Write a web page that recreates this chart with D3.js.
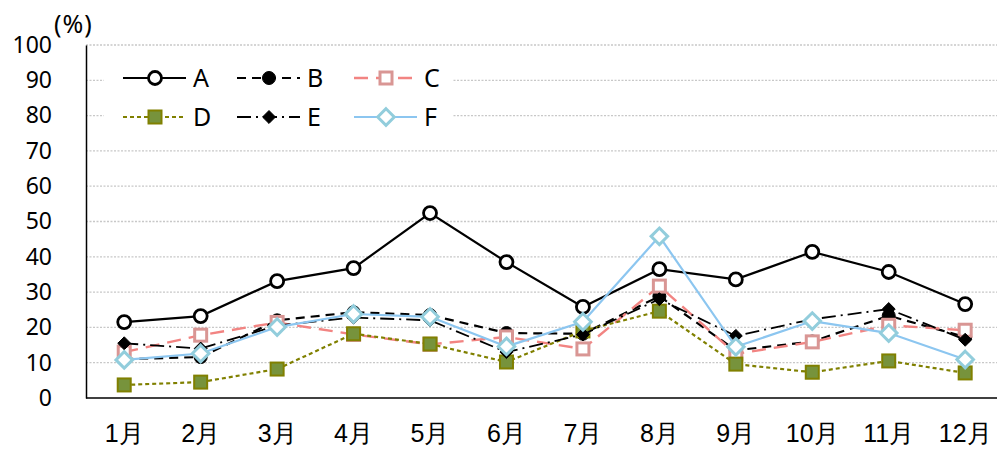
<!DOCTYPE html>
<html>
<head>
<meta charset="utf-8">
<script src="https://cdn.jsdelivr.net/npm/d3@7"></script>
<style>
  body { margin: 0; background: #fff; }
  svg { display: block; font-family: "Noto Sans CJK JP", "Noto Sans", sans-serif; }
</style>
</head>
<body>
<svg id="chart" width="997" height="449"></svg>
<script>
// months along the x axis
var months = ["1月", "2月", "3月", "4月", "5月", "6月", "7月", "8月", "9月", "10月", "11月", "12月"];
var yTicks = [0, 10, 20, 30, 40, 50, 60, 70, 80, 90, 100];

// series values (%)
var seriesA = [21.5, 23.2, 33.1, 36.8, 52.4, 38.5, 25.8, 36.5, 33.6, 41.4, 35.7, 26.6];
var seriesB = [11.0, 11.6, 22.0, 24.3, 23.5, 18.4, 18.2, 28.8, 13.5, 16.0, 23.3, 17.3];
var seriesC = [13.0, 17.8, 21.4, 18.0, 15.2, 17.3, 13.9, 31.7, 12.5, 15.9, 20.6, 19.2];
var seriesD = [3.7, 4.5, 8.2, 18.2, 15.3, 10.2, 19.0, 24.6, 9.6, 7.3, 10.5, 7.1];
var seriesE = [15.5, 14.0, 20.5, 22.8, 22.0, 13.0, 18.0, 28.0, 17.6, 22.3, 25.2, 16.5];
var seriesF = [10.8, 12.6, 20.1, 23.8, 23.0, 14.6, 21.6, 45.8, 14.5, 21.8, 18.4, 10.9];

// how each series looks
var styles = [
    {name: "A", values: seriesA, stroke: "#000", dash: null, width: 2.2,
     shape: "circle", size: 6.5, mFill: "#fff", mStroke: "#000", mWidth: 2.8},
    {name: "B", values: seriesB, stroke: "#000", dash: "9,6", width: 2.2,
     shape: "circle", size: 6.5, mFill: "#000", mStroke: "#000", mWidth: 1},
    {name: "C", values: seriesC, stroke: "#f28482", dash: "14,8", width: 2.4,
     shape: "square", size: 12, mFill: "#fff", mStroke: "#d99694", mWidth: 3},
    {name: "D", values: seriesD, stroke: "#808000", dash: "4,3", width: 2.2,
     shape: "square", size: 13, mFill: "#77933c", mStroke: "#808000", mWidth: 2},
    {name: "E", values: seriesE, stroke: "#000", dash: "14,5,2,5", width: 1.8,
     shape: "diamond", size: 9, mFill: "#000", mStroke: "#000", mWidth: 1},
    {name: "F", values: seriesF, stroke: "#8cc6f0", dash: null, width: 2.2,
     shape: "diamond", size: 11.5, mFill: "#fff", mStroke: "#92cddc", mWidth: 3}
];

var svg = d3.select("#chart");
var plotLeft = 86, plotBottom = 398, plotTop = 45, plotRight = 997;

var x = d3.scaleBand().domain(months).range([plotLeft, plotLeft + 12 * 76.45]);
var y = d3.scaleLinear().domain([0, 100]).range([plotBottom, plotTop]);

function cx(i) { return x(months[i]) + x.bandwidth() / 2; }

// gridlines
svg.append("g").selectAll("line")
    .data(yTicks.filter(function(d) { return d > 0; }))
    .enter().append("line")
    .attr("x1", plotLeft).attr("x2", plotRight)
    .attr("y1", function(d) { return y(d); })
    .attr("y2", function(d) { return y(d); })
    .attr("stroke", "#c8c8c8")
    .attr("stroke-width", 1.3)
    .attr("stroke-dasharray", "2,1.5");

// y axis
var yAxis = svg.append("g")
    .attr("transform", "translate(" + plotLeft + ",0)")
    .call(d3.axisLeft(y).tickValues(yTicks).tickSize(0).tickPadding(34));
yAxis.select(".domain").attr("stroke", "#000").attr("stroke-width", 1.5);
yAxis.selectAll("text").attr("font-size", 23).attr("fill", "#000")
    .attr("font-family", "Noto Sans, sans-serif");

// x axis
var xAxis = svg.append("g")
    .attr("transform", "translate(0," + plotBottom + ")")
    .call(d3.axisBottom(x).tickSize(0).tickPadding(26));
xAxis.select(".domain").remove();
xAxis.selectAll("text").attr("font-size", 25).attr("fill", "#000");
svg.append("line")
    .attr("x1", plotLeft).attr("x2", plotRight)
    .attr("y1", plotBottom).attr("y2", plotBottom)
    .attr("stroke", "#000").attr("stroke-width", 1.5);

svg.append("text")
    .attr("x", 54).attr("y", 33)
    .attr("font-size", 25)
    .attr("letter-spacing", 1)
    .attr("font-family", "Noto Sans, sans-serif")
    .text("(%)");

// draws one marker at the origin of g
function drawMarker(g, s) {
    var m;
    if (s.shape == "circle") {
        m = g.append("circle").attr("r", s.size);
    } else if (s.shape == "square") {
        m = g.append("rect")
            .attr("x", -s.size / 2).attr("y", -s.size / 2)
            .attr("width", s.size).attr("height", s.size);
    } else {
        var h = s.size * 0.72;
        m = g.append("path")
            .attr("d", "M0," + (-h) + "L" + h + ",0L0," + h + "L" + (-h) + ",0Z");
    }
    m.attr("fill", s.mFill).attr("stroke", s.mStroke).attr("stroke-width", s.mWidth);
}

var line = d3.line()
    .x(function(d, i) { return cx(i); })
    .y(function(d) { return y(d); });

styles.forEach(function(s) {
    var g = svg.append("g");
    g.append("path")
        .attr("d", line(s.values))
        .attr("fill", "none")
        .attr("stroke", s.stroke)
        .attr("stroke-width", s.width)
        .attr("stroke-dasharray", s.dash);
    s.values.forEach(function(v, i) {
        drawMarker(g.append("g").attr("transform", "translate(" + cx(i) + "," + y(v) + ")"), s);
    });
});

// legend, 3 per row
var legend = svg.append("g");
legend.append("rect")
    .attr("x", 104).attr("y", 52).attr("width", 348).attr("height", 86)
    .attr("fill", "#fff");

var legendX = [123, 237, 354];
var legendY = [78, 117];
styles.forEach(function(s, i) {
    var lx = legendX[i % 3], ly = legendY[Math.floor(i / 3)];
    var item = legend.append("g").attr("transform", "translate(" + lx + "," + ly + ")");
    item.append("line")
        .attr("x1", 0).attr("x2", 63)
        .attr("stroke", s.stroke)
        .attr("stroke-width", s.width)
        .attr("stroke-dasharray", s.dash);
    drawMarker(item.append("g").attr("transform", "translate(32,0)"), s);
    item.append("text")
        .attr("x", 70).attr("y", 9)
        .attr("font-size", 25)
        .attr("font-family", "Noto Sans, sans-serif")
        .text(s.name);
});
</script>
</body>
</html>
